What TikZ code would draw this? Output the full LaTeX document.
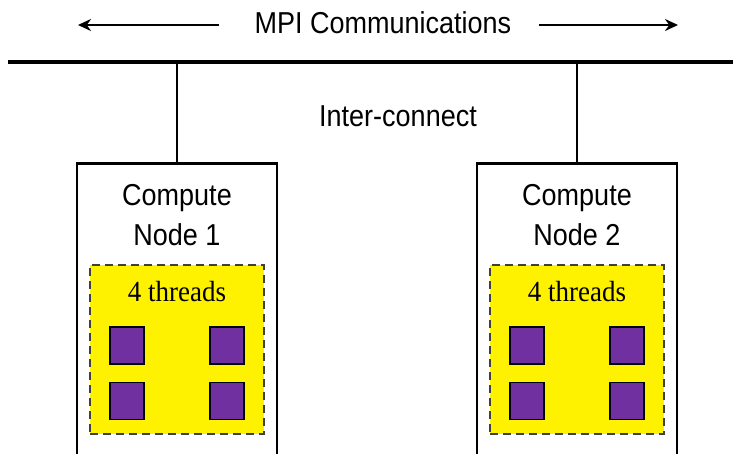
\documentclass[tikz,border=0pt]{standalone}
\usepackage{fontspec}
\setmainfont{Liberation Sans}
\newfontfamily\timesfont{Liberation Serif}
\usetikzlibrary{arrows.meta}
\definecolor{threadpurple}{HTML}{7030A0}
\definecolor{dashgray}{HTML}{404040}
\tikzset{
  label/.style={font=\fontsize{27}{36}\selectfont, inner sep=0pt, align=center, yscale=1.12},
  nodebox/.style={draw=black, line width=2.6pt, fill=white, minimum width=200pt, minimum height=310pt, anchor=north, inner sep=0pt},
  threadbox/.style={draw=dashgray, line width=2.2pt, dash pattern=on 8pt off 5pt, fill=yellow, minimum width=174pt, minimum height=169pt, anchor=north, inner sep=0pt},
  core/.style={draw=black, line width=1.6pt, fill=threadpurple, minimum width=34pt, minimum height=37pt, inner sep=0pt},
  bus/.style={line width=3.4pt},
  link/.style={line width=2.6pt},
  msgarrow/.style={line width=2.8pt, -{Stealth[length=13pt, width=12pt]}},
}
\begin{document}
\begin{tikzpicture}[x=1pt, y=-1pt]
  \useasboundingbox (0,0) rectangle (733,453);
  \clip (0,0) rectangle (733,453);

  % message passing label and arrows
  \node[label] (mpi) at (383,23) {MPI Communications};
  \coordinate (mpiL) at (78,25);
  \coordinate (mpiR) at (678,25);
  \draw[msgarrow] ([xshift=-36pt]mpi.west |- mpiL) -- (mpiL);
  \draw[msgarrow] ([xshift=28pt]mpi.east |- mpiR) -- (mpiR);

  % interconnect bus
  \coordinate (busL) at (8,62);
  \coordinate (busR) at (740,62);
  \draw[bus] (busL) -- (busR);
  \node[label] (ic) at (398,116) {Inter-connect};

  % compute nodes
  \foreach \i/\cx in {1/177,2/577} {
    \coordinate (tap\i) at (\cx,62);
    \node[nodebox] (cn\i) at (\cx,162) {};
    \draw[link] (tap\i) -- (cn\i.north);
    \node[label] (cnlabel\i) at (\cx,215) {Compute\\Node \i};
    \node[threadbox] (tb\i) at (\cx,264) {};
    \node[font=\timesfont\fontsize{27}{31}\selectfont, inner sep=0pt, yscale=1.08] (tl\i) at (\cx,292) {4 threads};
    \node[core] (c\i a) at (\cx-50,345.5) {};
    \node[core] (c\i b) at (\cx+50,345.5) {};
    \node[core] (c\i c) at (\cx-50,401) {};
    \node[core] (c\i d) at (\cx+50,401) {};
  }
\end{tikzpicture}
\end{document}
